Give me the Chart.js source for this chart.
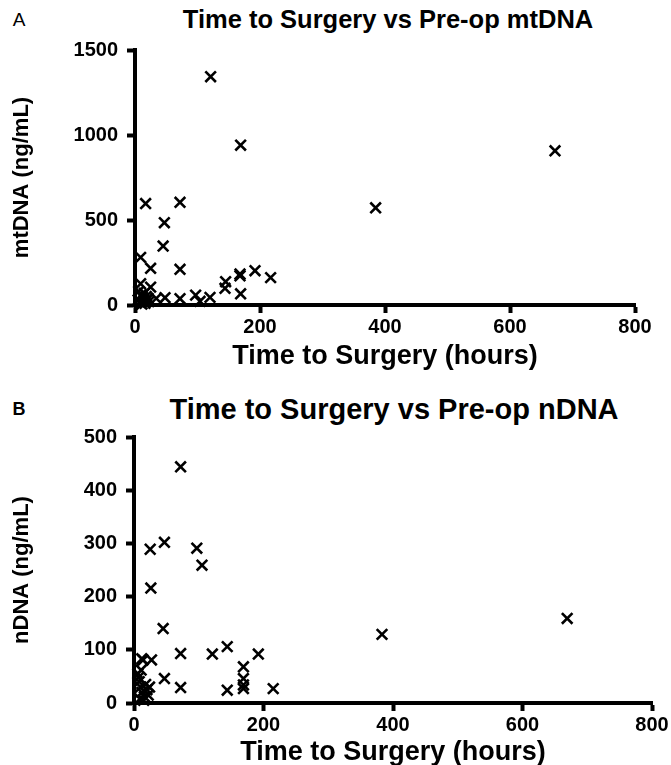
<!DOCTYPE html>
<html>
<head>
<meta charset="utf-8">
<script src="https://cdn.jsdelivr.net/npm/chart.js@4.4.1/dist/chart.umd.min.js"></script>
<style>
  body { margin: 0; background: #fff; font-family: "Liberation Sans", Arial, sans-serif; }
  #wrap { position: relative; width: 671px; height: 765px; overflow: hidden; }
  .box { position: absolute; left: 0; width: 671px; }
  .txt { position: absolute; color: #000; white-space: nowrap; transform: translate(-50%, -50%); }
</style>
</head>
<body>
<div id="wrap">
  <div class="txt" style="left:19px; top:20px; font-size:19px;">A</div>
  <div class="txt" style="left:388px; top:19px; font-size:25.5px; font-weight:bold;">Time to Surgery vs Pre-op mtDNA</div>
  <div class="txt" style="left:19px; top:409px; font-size:18px; font-weight:bold;">B</div>
  <div class="txt" style="left:394px; top:409px; font-size:29px; font-weight:bold;">Time to Surgery vs Pre-op nDNA</div>
  <div class="box" style="top:0; height:380px;"><canvas id="chartA"></canvas></div>
  <div class="box" style="top:380px; height:390px;"><canvas id="chartB"></canvas></div>
</div>
<script>
// --- dados ---
const hoursA = [17, 72, 47, 45, 9, 25, 72, 9, 25, 48, 72, 97, 104, 120, 145, 144, 168, 168, 169, 192, 217, 385, 672, 121, 169,
                5, 8, 10, 12, 14, 16, 18, 20, 6, 22, 11, 15, 34, 21];
const mtDNA  = [597, 604, 484, 347, 280, 216, 210, 125, 105, 43, 37, 58, 22, 45, 137, 98, 182, 172, 66, 202, 161, 572, 907, 1343, 940,
                30, 15, 60, 45, 25, 10, 50, 35, 80, 20, 5, 70, 39, 39];

const hoursB = [72, 47, 25, 97, 105, 26, 45, 72, 121, 144, 192, 169, 169, 169, 169, 47, 72, 144, 215, 383, 669, 14, 27, 12,
                6, 8, 10, 12, 16, 18, 20, 9, 22, 11, 15, 24, 7];
const nDNA   = [444, 302, 289, 291, 259, 216, 140, 93, 92, 106, 92, 68, 46, 34, 27, 46, 29, 24, 27, 129, 159, 81, 81, 83,
                55, 40, 30, 20, 12, 35, 25, 8, 15, 62, 5, 30, 48];

const xTicks = [0, 200, 400, 600, 800];
const yTicksA = [0, 500, 1000, 1500];
const yTicksB = [0, 100, 200, 300, 400, 500];

const fonte = "'Liberation Sans', Arial, sans-serif";

function pontos(xs, ys) {
    return xs.map((x, i) => ({ x: x, y: ys[i] }));
}

function eixo(ticks, titulo, tamTitulo, padTitulo, padTicks, extra) {
    return Object.assign({
        type: 'linear',
        min: ticks[0],
        max: ticks[ticks.length - 1],
        afterBuildTicks: s => { s.ticks = ticks.map(v => ({ value: v })); },
        border: { display: true, color: '#000', width: 4 },
        grid: { drawOnChartArea: false, drawTicks: true, tickLength: 8, tickWidth: 4, tickColor: '#000' },
        ticks: {
            color: '#000', padding: padTicks,
            font: { family: fonte, size: 20, weight: 'bold' },
            callback: v => String(v)
        },
        title: {
            display: true, text: titulo, color: '#000', padding: padTitulo,
            font: { family: fonte, size: tamTitulo, weight: 'bold' }
        }
    }, extra);
}

function criarGrafico(id, xs, ys, yTicks, yTitulo, area) {
    const ctx = document.getElementById(id).getContext('2d');
    return new Chart(ctx, {
        type: 'scatter',
        data: {
            datasets: [{
                data: pontos(xs, ys),
                pointStyle: 'crossRot',
                radius: 7.5,
                borderWidth: 2.6,
                borderColor: '#000',
                backgroundColor: '#000',
                clip: false
            }]
        },
        options: {
            responsive: true,
            maintainAspectRatio: false,
            animation: false,
            layout: { padding: { left: 0, right: area.right, top: area.top, bottom: 0 } },
            plugins: { legend: { display: false }, tooltip: { enabled: false } },
            scales: {
                x: eixo(xTicks, 'Time to Surgery (hours)', 27, { top: 4, bottom: area.xpad }, 2, {
                    afterFit: s => { s.height = area.xh; }
                }),
                y: eixo(yTicks, yTitulo, 22, { top: 9, bottom: 4 }, 9, {
                    afterFit: s => { s.width = area.left; }
                })
            }
        }
    });
}

criarGrafico('chartA', hoursA, mtDNA, yTicksA, 'mtDNA (ng/mL)', { left: 135, right: 36, top: 50, xh: 75, xpad: 7 });
criarGrafico('chartB', hoursB, nDNA, yTicksB, 'nDNA (ng/mL)', { left: 134, right: 19, top: 57, xh: 67, xpad: 1 });
</script>
</body>
</html>
